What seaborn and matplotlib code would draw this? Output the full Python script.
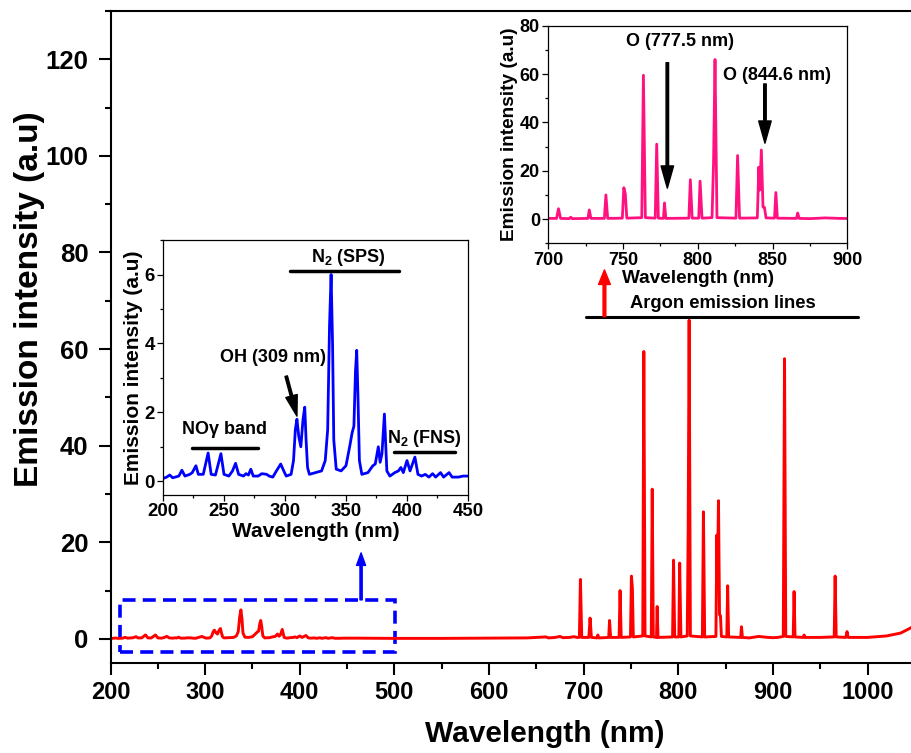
import pandas as pd
import matplotlib.pyplot as plt
import seaborn as sns
from matplotlib.patches import Rectangle
from matplotlib.ticker import MultipleLocator

# UV (200-450 nm): N2 SPS, OH, NOγ, N2 FNS
uv_wl = [200, 203, 205.5, 208, 213, 215.5, 218, 222, 224, 227, 229, 233, 237, 239.5,
         243, 247.5, 250, 254, 257, 259.5, 262, 266, 268, 270, 272, 274, 278, 281,
         285, 287, 290, 293, 296.5, 299, 301, 305, 307, 308.5, 309.8, 311.3, 313, 314.8,
         316.2, 317.3, 318.5, 320, 325, 330, 333, 335, 336.5, 337.8, 339, 340, 342, 346,
         350, 353, 355, 356.5, 357.8, 358.8, 359.8, 361, 363, 368, 372, 374, 376.5, 378,
         379.5, 381.5, 383.5, 386, 390, 393, 395, 397, 400, 402.5, 406.5, 409, 412, 415,
         418, 421, 423.5, 427.5, 430, 434.5, 437, 442, 446, 450]
uv_int = [0.08, 0.12, 0.18, 0.10, 0.15, 0.32, 0.15, 0.20, 0.25, 0.45, 0.20, 0.20, 0.82, 0.20,
          0.18, 0.80, 0.20, 0.15, 0.30, 0.52, 0.20, 0.15, 0.22, 0.18, 0.35, 0.15, 0.15, 0.22,
          0.20, 0.15, 0.12, 0.30, 0.50, 0.30, 0.15, 0.20, 0.60, 1.50, 1.80, 1.30, 1.00, 1.80,
          2.15, 1.20, 0.40, 0.20, 0.25, 0.30, 0.60, 1.50, 4.50, 6.00, 4.00, 1.20, 0.35, 0.30,
          0.45, 1.00, 1.40, 1.60, 3.20, 3.80, 2.50, 0.60, 0.20, 0.25, 0.45, 0.50, 1.00, 0.55,
          0.80, 1.95, 0.30, 0.15, 0.25, 0.30, 0.40, 0.25, 0.60, 0.30, 0.70, 0.20, 0.15, 0.20,
          0.12, 0.22, 0.12, 0.25, 0.12, 0.25, 0.12, 0.12, 0.15, 0.15]

# 450-700 nm: linha de base
mid_wl = [460, 500, 550, 600, 640, 660, 663, 670, 675, 678, 685, 690, 693, 695.5, 696.6, 698]
mid_int = [0.15, 0.10, 0.10, 0.15, 0.20, 0.40, 0.20, 0.30, 0.50, 0.25, 0.30, 0.45, 0.30, 0.30, 12.3, 0.30]

# 700-900 nm: linhas do argônio + O
ar_wl = [700, 705.5, 706.8, 708.2, 714, 715, 716, 726.5, 727.4, 728.5, 737.5, 738.5, 739.7,
         749.5, 750.5, 751.5, 752.5, 762.5, 763.6, 764.9, 771.5, 772.5, 773.6, 777, 777.7,
         778.6, 794, 795, 796.2, 800.6, 801.5, 802.8, 809.5, 810.5, 811.5, 812.8, 825.5,
         826.6, 827.9, 839.8, 840.8, 841.4, 842.5, 843.6, 844.6, 845.6, 851.3, 852.2, 853.2,
         866, 866.8, 867.8, 875, 885, 895, 900]
ar_int = [0.3, 0.3, 4.3, 0.3, 0.2, 0.8, 0.2, 0.3, 3.8, 0.3, 0.3, 10.0, 0.3,
          0.4, 13.0, 10.5, 0.4, 0.6, 59.5, 0.6, 0.4, 31.0, 0.4, 0.3, 6.7,
          0.3, 0.4, 16.3, 0.4, 0.4, 15.7, 0.4, 0.6, 23.0, 66.0, 0.6, 0.4,
          26.3, 0.4, 0.5, 21.5, 12.0, 28.6, 5.0, 4.8, 0.5, 0.4, 11.0, 0.4,
          0.3, 2.5, 0.3, 0.2, 0.5, 0.3, 0.25]

# 900-1050 nm
nir_wl = [905, 911, 912.3, 913.6, 921.5, 922.4, 923.4, 932, 933, 934, 950, 964.8, 965.8,
          966.9, 977, 978.4, 979.5, 1000, 1020, 1035, 1045, 1050]
nir_int = [0.3, 0.5, 58.0, 0.5, 0.4, 9.8, 0.4, 0.3, 0.8, 0.3, 0.3, 0.4, 13.0,
           0.4, 0.3, 1.5, 0.3, 0.3, 0.6, 1.2, 2.2, 2.8]

df_full = pd.DataFrame({'wl': uv_wl + mid_wl + ar_wl + nir_wl,
                        'int': uv_int + mid_int + ar_int + nir_int})
df_uv = pd.DataFrame({'wl': uv_wl, 'int': uv_int})
df_ar = pd.DataFrame({'wl': ar_wl, 'int': ar_int})

# --- Estilo ---
sns.set_style("ticks")
plt.rcParams['font.family'] = ['Liberation Sans', 'DejaVu Sans']
plt.rcParams['font.weight'] = 'bold'
plt.rcParams['axes.labelweight'] = 'bold'
plt.rcParams['text.color'] = 'black'
plt.rcParams['axes.labelcolor'] = 'black'
plt.rcParams['xtick.color'] = 'black'
plt.rcParams['ytick.color'] = 'black'
plt.rcParams['mathtext.fontset'] = 'custom'
plt.rcParams['mathtext.rm'] = 'Liberation Sans:bold'
plt.rcParams['mathtext.bf'] = 'Liberation Sans:bold'
plt.rcParams['mathtext.default'] = 'bf'


def estilizar_eixo(ax, fs_xtick, fs_ytick, fs_xlabel, fs_ylabel, lw_spine, maj, mino,
                   xpad=2, ypad=2, labelpad=2):
    for s in ax.spines.values():
        s.set_linewidth(lw_spine)
        s.set_color('black')
    ax.tick_params(which='major', direction='out', length=maj, width=lw_spine)
    ax.tick_params(which='minor', direction='out', length=mino, width=lw_spine)
    ax.tick_params(axis='x', which='major', labelsize=fs_xtick, pad=xpad)
    ax.tick_params(axis='y', which='major', labelsize=fs_ytick, pad=ypad)
    for lab in ax.get_xticklabels() + ax.get_yticklabels():
        lab.set_fontweight('bold')
    ax.xaxis.label.set_size(fs_xlabel)
    ax.yaxis.label.set_size(fs_ylabel)
    ax.xaxis.labelpad = labelpad
    ax.yaxis.labelpad = labelpad


fig = plt.figure(figsize=(9.11, 7.53), dpi=100)

# --- Gráfico principal ---
ax = fig.add_axes([0.1213, 0.1195, 0.8829, 0.8659])
sns.lineplot(data=df_full, x='wl', y='int', ax=ax, color='#FF0000', lw=2.1,
             sort=False, estimator=None)
ax.set_xlim(200, 1050)
ax.set_ylim(-5, 130)
ax.xaxis.set_major_locator(MultipleLocator(100))
ax.xaxis.set_minor_locator(MultipleLocator(50))
ax.yaxis.set_major_locator(MultipleLocator(20))
ax.yaxis.set_minor_locator(MultipleLocator(10))
ax.set_xlabel('Wavelength (nm)')
ax.set_ylabel('Emission intensity (a.u)')
estilizar_eixo(ax, 17, 18.5, 21.5, 24, 1.5, 8.5, 4.5, xpad=4.5, ypad=7.5)
ax.xaxis.set_label_coords(0.54, -0.088)
ax.yaxis.set_label_coords(-0.081, 0.558)

# caixa tracejada na região UV
ax.add_patch(Rectangle((209.7, -2.75), 500.3 - 209.7, 8.07 + 2.75, fill=False,
                       edgecolor='#0000FF', lw=2.6, linestyle=(0, (3.6, 2.0))))
ax.annotate('', xy=(464.8, 17.8), xytext=(464.8, 8.07),
            arrowprops=dict(width=1.6, headwidth=6.5, headlength=9, color='#0000FF', shrink=0))

# argônio
ax.plot([703, 990], [66.7, 66.7], color='black', lw=2.2)
ax.text(847.6, 69.4, 'Argon emission lines', ha='center', va='center', fontsize=13.2, fontweight='bold')
ax.annotate('', xy=(722, 76.4), xytext=(722, 66.7),
            arrowprops=dict(width=2.0, headwidth=8.5, headlength=10.5, color='#FF0000', shrink=0))

# --- Inset UV ---
ax1 = fig.add_axes([0.1789, 0.3426, 0.3348, 0.3386])
sns.lineplot(data=df_uv, x='wl', y='int', ax=ax1, color='#0000FF', lw=2.0,
             sort=False, estimator=None)
ax1.set_xlim(200, 450)
ax1.set_ylim(-0.4, 7)
ax1.xaxis.set_major_locator(MultipleLocator(50))
ax1.xaxis.set_minor_locator(MultipleLocator(25))
ax1.yaxis.set_major_locator(MultipleLocator(2))
ax1.yaxis.set_minor_locator(MultipleLocator(1))
ax1.set_xlabel('Wavelength (nm)')
ax1.set_ylabel('Emission intensity (a.u)')
estilizar_eixo(ax1, 13.4, 13.4, 15, 15, 0.9, 4, 2.5, labelpad=1)

ax1.plot([303.8, 393.4], [6.1, 6.1], color='black', lw=2.5)
ax1.text(351.6, 6.37, r'N$_{2}$ (SPS)', ha='center', va='baseline', fontsize=13, fontweight='bold')
ax1.plot([224, 277.9], [0.97, 0.97], color='black', lw=2.5)
ax1.text(250.5, 1.36, 'NOγ band', ha='center', va='baseline', fontsize=13, fontweight='bold')
ax1.plot([389.3, 439], [0.84, 0.84], color='black', lw=2.5)
ax1.text(414.5, 1.11, r'N$_{2}$ (FNS)', ha='center', va='baseline', fontsize=13, fontweight='bold')
ax1.text(290.2, 3.46, 'OH (309 nm)', ha='center', va='baseline', fontsize=13, fontweight='bold')
ax1.annotate('', xy=(309.8, 1.89), xytext=(301, 3.05),
             arrowprops=dict(width=1.8, headwidth=8.5, headlength=15, color='black', shrink=0))

# --- Inset Ar ---
ax2 = fig.add_axes([0.6019, 0.6769, 0.3282, 0.289])
sns.lineplot(data=df_ar, x='wl', y='int', ax=ax2, color='#FF1180', lw=2.0,
             sort=False, estimator=None)
ax2.set_xlim(700, 900)
ax2.set_ylim(-10, 80)
ax2.xaxis.set_major_locator(MultipleLocator(50))
ax2.xaxis.set_minor_locator(MultipleLocator(25))
ax2.yaxis.set_major_locator(MultipleLocator(20))
ax2.yaxis.set_minor_locator(MultipleLocator(10))
ax2.set_xlabel('Wavelength (nm)')
ax2.set_ylabel('Emission intensity (a.u)')
estilizar_eixo(ax2, 13, 13, 13.7, 13.7, 0.9, 4, 2.5, labelpad=1)

ax2.text(788.3, 73.4, 'O (777.5 nm)', ha='center', va='center', fontsize=13, fontweight='bold')
ax2.annotate('', xy=(779.6, 12.8), xytext=(779.6, 64.7),
             arrowprops=dict(width=1.8, headwidth=9, headlength=16, color='black', shrink=0))
ax2.text(853, 59.6, 'O (844.6 nm)', ha='center', va='center', fontsize=13, fontweight='bold')
ax2.annotate('', xy=(844.9, 31.4), xytext=(844.9, 55.9),
             arrowprops=dict(width=1.8, headwidth=9, headlength=16, color='black', shrink=0))

fig.savefig('out.png', dpi=100)
